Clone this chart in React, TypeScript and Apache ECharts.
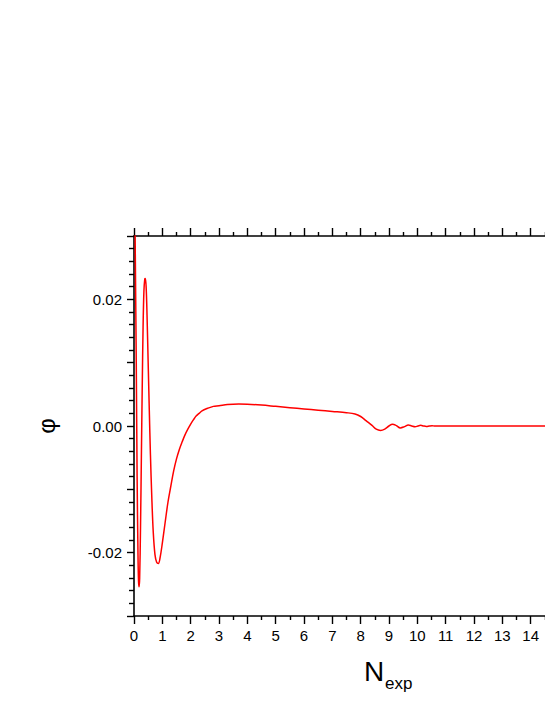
import React, { useEffect, useRef } from "react";
import * as echarts from "echarts";

const xValues: number[] = [
  0.0, 0.04, 0.08, 0.11, 0.14, 0.16, 0.18, 0.2, 0.23, 0.26, 0.29, 0.32, 0.35, 0.38, 0.4, 0.43,
  0.46, 0.5, 0.54, 0.58, 0.63, 0.68, 0.74, 0.8, 0.86, 0.92, 1.0, 1.1, 1.2, 1.3, 1.4, 1.5, 1.6,
  1.7, 1.8, 1.9, 2.0, 2.1, 2.2, 2.3, 2.4, 2.6, 2.8, 3.0, 3.3, 3.7, 4.0, 4.5, 5.0, 5.5, 6.0, 6.5,
  7.0, 7.5, 7.8, 8.0, 8.2, 8.4, 8.55, 8.7, 8.85, 9.0, 9.12, 9.25, 9.4, 9.55, 9.68, 9.8, 9.92,
  10.02, 10.12, 10.22, 10.32, 10.42, 10.52, 10.6, 15.0,
];

const phiValues: number[] = [
  0.05, 0.03, 0.01, -0.008, -0.02, -0.0245, -0.0254, -0.024, -0.016, -0.005, 0.006, 0.0155,
  0.0213, 0.0232, 0.0233, 0.0218, 0.0175, 0.01, 0.0025, -0.0045, -0.0115, -0.0168, -0.0203,
  -0.0215, -0.0217, -0.0208, -0.0185, -0.0152, -0.012, -0.0095, -0.0071, -0.0052, -0.0037,
  -0.0025, -0.0014, -0.0005, 0.0003, 0.001, 0.0016, 0.002, 0.0024, 0.0028, 0.0031, 0.0032,
  0.0034, 0.00348, 0.00345, 0.0033, 0.0031, 0.0029, 0.0027, 0.0025, 0.0023, 0.0021, 0.0019,
  0.0015, 0.0008, 0.0001, -0.0005, -0.0007, -0.0005, 0.0, 0.00028, 0.0001, -0.0003, -0.0001,
  0.00015, 0.0, -0.00012, 0.0, 0.0001, 0.0, -0.00006, 0.0, 0.00004, 0.0, 0.0,
];

const yLabelValues: number[] = [-0.02, 0.0, 0.02];

const FONT = 'Arial, "Liberation Sans", sans-serif';

export default function App() {
  const ref = useRef<HTMLDivElement>(null);

  useEffect(() => {
    if (!ref.current) return;
    const chart = echarts.init(ref.current, undefined, { renderer: "svg" });
    const data = xValues.map((x, i) => [x, phiValues[i]]);
    const axisLine = { show: true, onZero: false, lineStyle: { color: "#000", width: 1.6 } };
    chart.setOption({
      animation: false,
      backgroundColor: "#fff",
      grid: { left: 134, top: 236, bottom: 89, right: -14, outerBoundsMode: "none", containLabel: false },
      xAxis: [
        {
          type: "value",
          position: "bottom",
          min: 0,
          max: 15,
          interval: 1,
          axisLine,
          axisTick: { show: true, inside: false, length: 8, lineStyle: { color: "#000", width: 1.4 } },
          minorTick: { show: true, splitNumber: 2, length: 4, lineStyle: { color: "#000", width: 1.4 } },
          splitLine: { show: false },
          axisLabel: { color: "#000", fontSize: 15, fontFamily: FONT, margin: 12, showMaxLabel: false },
        },
        {
          type: "value",
          position: "top",
          min: 0,
          max: 15,
          interval: 1,
          axisLine,
          axisTick: { show: true, inside: false, length: 8, lineStyle: { color: "#000", width: 1.4 } },
          minorTick: { show: true, splitNumber: 2, length: 4, lineStyle: { color: "#000", width: 1.4 } },
          splitLine: { show: false },
          axisLabel: { show: false },
        },
      ],
      yAxis: {
        type: "value",
        min: -0.03,
        max: 0.03,
        interval: 0.01,
        axisLine,
        axisTick: { show: true, inside: false, length: 7, lineStyle: { color: "#000", width: 1.4 } },
        minorTick: { show: true, splitNumber: 5, length: 5, lineStyle: { color: "#000", width: 1.4 } },
        splitLine: { show: false },
        axisLabel: {
          color: "#000",
          fontSize: 15,
          fontFamily: FONT,
          margin: 12,
          formatter: (v: number) => {
            const hit = yLabelValues.find((t) => Math.abs(t - v) < 1e-9);
            return hit === undefined ? "" : hit.toFixed(2);
          },
        },
        name: "φ",
        nameLocation: "middle",
        nameRotate: 90,
        nameGap: 76,
        nameTextStyle: { color: "#000", fontSize: 24, fontFamily: FONT },
      },
      graphic: [
        {
          type: "text",
          left: 364,
          top: 657,
          style: { text: "N", fontSize: 28, fontFamily: FONT, fill: "#000" },
        },
        {
          type: "text",
          left: 385,
          top: 675,
          style: { text: "exp", fontSize: 17, fontFamily: FONT, fill: "#000" },
        },
      ],
      series: [
        {
          type: "line",
          xAxisIndex: 0,
          data,
          showSymbol: false,
          smooth: 0.35,
          clip: true,
          lineStyle: { color: "#ff0000", width: 1.5 },
        },
      ],
    });
    return () => chart.dispose();
  }, []);

  return (
    <div
      ref={ref}
      style={{ position: "fixed", left: 0, top: 0, width: 545, height: 705, overflow: "hidden" }}
    />
  );
}
